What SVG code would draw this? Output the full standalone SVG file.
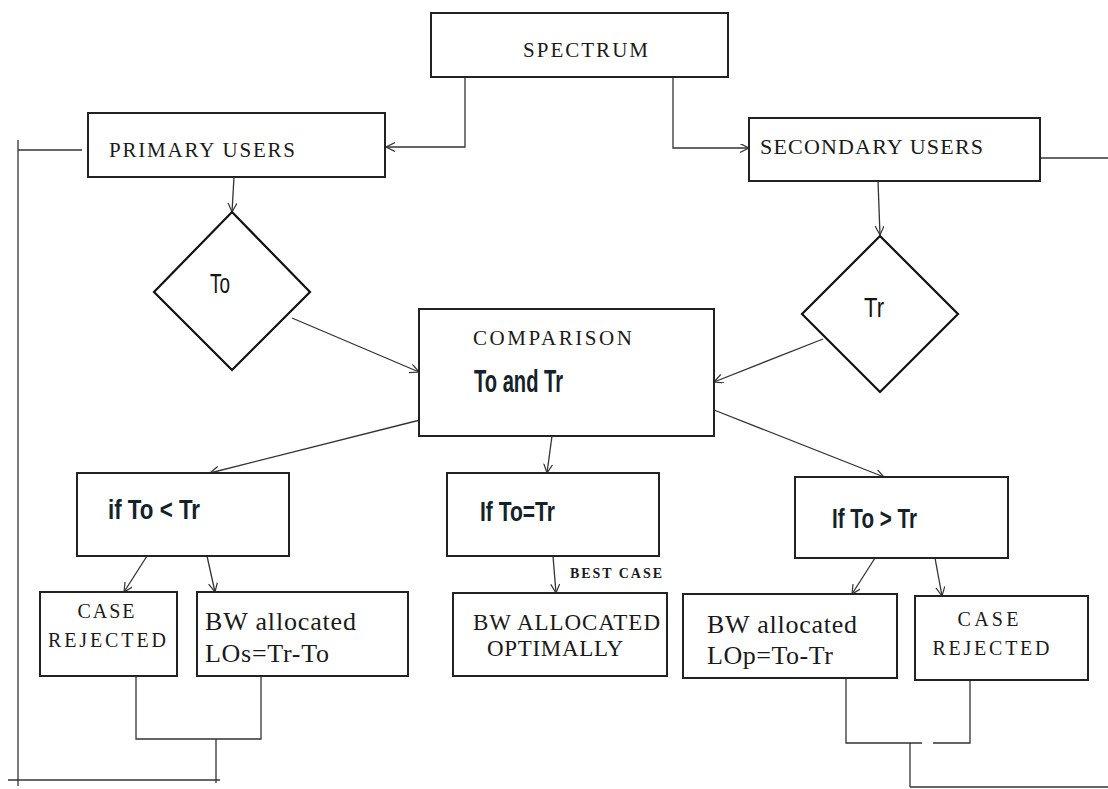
<svg xmlns="http://www.w3.org/2000/svg" width="1108" height="789" viewBox="0 0 1108 789">
  <defs>
    <marker id="arrow" markerUnits="userSpaceOnUse" markerWidth="12" markerHeight="12" refX="9" refY="4.5" orient="auto">
      <path d="M0,0 L9,4.5 L0,9" fill="none" stroke="#333" stroke-width="1.2"/>
    </marker>
    <style>
      .box { fill: #fff; stroke: #222; stroke-width: 2; }
      .dia { fill: #fff; stroke: #111; stroke-width: 2.2; }
      .conn { fill: none; stroke: #333; stroke-width: 1.3; }
      .serif { font-family: "Liberation Serif", "Times New Roman", serif; fill: #1a1a1a; }
      .cond { font-family: "Liberation Sans", Arial, sans-serif; font-weight: bold; fill: #14222a; }
      .thin { font-family: "Liberation Sans", Arial, sans-serif; fill: #141414; }
    </style>
  </defs>
  <rect x="0" y="0" width="1108" height="789" fill="#fff"/>

  <!-- connectors -->
  <g id="connectors">
    <polyline class="conn" points="465,77 465,147 386,147" marker-end="url(#arrow)"/>
    <polyline class="conn" points="673,77 673,148 749,148" marker-end="url(#arrow)"/>
    <line class="conn" x1="234" y1="177" x2="232" y2="212" marker-end="url(#arrow)"/>
    <line class="conn" x1="878" y1="181" x2="880" y2="235" marker-end="url(#arrow)"/>
    <line class="conn" x1="292" y1="318" x2="419" y2="372" marker-end="url(#arrow)"/>
    <line class="conn" x1="823" y1="339" x2="714" y2="382" marker-end="url(#arrow)"/>
    <line class="conn" x1="420" y1="420" x2="210" y2="473" marker-end="url(#arrow)"/>
    <line class="conn" x1="552" y1="436" x2="547" y2="473" marker-end="url(#arrow)"/>
    <line class="conn" x1="714" y1="410" x2="884" y2="477" marker-end="url(#arrow)"/>
    <line class="conn" x1="147" y1="556" x2="124" y2="592" marker-end="url(#arrow)"/>
    <line class="conn" x1="207" y1="556" x2="215" y2="592" marker-end="url(#arrow)"/>
    <line class="conn" x1="553" y1="556" x2="556" y2="593" marker-end="url(#arrow)"/>
    <line class="conn" x1="875" y1="558" x2="852" y2="594" marker-end="url(#arrow)"/>
    <line class="conn" x1="935" y1="558" x2="942" y2="596" marker-end="url(#arrow)"/>
    <!-- left merge and feedback loop -->
    <polyline class="conn" points="136,676 136,739 261,739 261,676"/>
    <line class="conn" x1="216" y1="739" x2="216" y2="783"/>
    <line class="conn" x1="8" y1="780" x2="220" y2="780"/>
    <line class="conn" x1="18" y1="140" x2="18" y2="786"/>
    <line class="conn" x1="82" y1="150" x2="18" y2="150"/>
    <!-- right merge and feedback loop -->
    <polyline class="conn" points="846,678 846,743 922,743"/>
    <polyline class="conn" points="933,743 970,743 970,680"/>
    <line class="conn" x1="910" y1="743" x2="910" y2="787"/>
    <line class="conn" x1="910" y1="787" x2="1108" y2="787"/>
    <line class="conn" x1="1040" y1="158" x2="1108" y2="158"/>
  </g>

  <g id="spectrum">
    <rect class="box" x="431" y="13" width="297" height="64"/>
    <text class="serif" x="523" y="57" font-size="21" textLength="125" lengthAdjust="spacing">SPECTRUM</text>
  </g>

  <g id="primary-users">
    <rect class="box" x="88" y="113" width="297" height="64"/>
    <text class="serif" x="109" y="157" font-size="21" textLength="186" lengthAdjust="spacing">PRIMARY USERS</text>
  </g>

  <g id="secondary-users">
    <rect class="box" x="749" y="118" width="291" height="63"/>
    <text class="serif" x="760" y="154" font-size="22" textLength="223" lengthAdjust="spacing">SECONDARY USERS</text>
  </g>

  <g id="to-decision">
    <polygon class="dia" points="232,212 310,292 232,370 154,292"/>
    <text class="thin" x="210" y="293" font-size="27" textLength="20" lengthAdjust="spacingAndGlyphs">To</text>
  </g>

  <g id="tr-decision">
    <polygon class="dia" points="880,236 958,314 880,392 802,314"/>
    <text class="thin" x="864" y="317" font-size="27" textLength="20" lengthAdjust="spacingAndGlyphs">Tr</text>
  </g>

  <g id="comparison">
    <rect class="box" x="419" y="309" width="295" height="127"/>
    <text class="serif" x="473" y="345" font-size="21" textLength="159" lengthAdjust="spacing">COMPARISON</text>
    <text class="cond" x="474" y="392" font-size="32" textLength="89" lengthAdjust="spacingAndGlyphs">To and Tr</text>
  </g>

  <g id="if-less">
    <rect class="box" x="77" y="473" width="212" height="83"/>
    <text class="cond" x="108" y="519" font-size="28" textLength="92" lengthAdjust="spacingAndGlyphs">if To &lt; Tr</text>
  </g>

  <g id="if-equal">
    <rect class="box" x="447" y="473" width="212" height="83"/>
    <text class="cond" x="480" y="521" font-size="28" textLength="75" lengthAdjust="spacingAndGlyphs">If To=Tr</text>
  </g>

  <g id="if-greater">
    <rect class="box" x="795" y="477" width="213" height="81"/>
    <text class="cond" x="832" y="528" font-size="28" textLength="85" lengthAdjust="spacingAndGlyphs">If To &gt; Tr</text>
  </g>

  <text id="best-case-label" class="serif" x="570" y="578" font-size="14" font-weight="bold" textLength="92" lengthAdjust="spacing">BEST CASE</text>

  <g id="case-rejected-left">
    <rect class="box" x="40" y="592" width="137" height="84"/>
    <text class="serif" x="106" y="618" font-size="20" text-anchor="middle" textLength="57" lengthAdjust="spacing">CASE</text>
    <text class="serif" x="107" y="647" font-size="20" text-anchor="middle" textLength="118" lengthAdjust="spacing">REJECTED</text>
  </g>

  <g id="bw-allocated-los">
    <rect class="box" x="197" y="592" width="211" height="84"/>
    <text class="serif" x="205" y="630" font-size="26" textLength="151" lengthAdjust="spacing">BW allocated</text>
    <text class="serif" x="205" y="662" font-size="26" textLength="124" lengthAdjust="spacing">LOs=Tr-To</text>
  </g>

  <g id="bw-allocated-optimally">
    <rect class="box" x="453" y="593" width="214" height="83"/>
    <text class="serif" x="473" y="630" font-size="23" textLength="187" lengthAdjust="spacing">BW ALLOCATED</text>
    <text class="serif" x="487" y="656" font-size="23" textLength="136" lengthAdjust="spacing">OPTIMALLY</text>
  </g>

  <g id="bw-allocated-lop">
    <rect class="box" x="683" y="594" width="214" height="84"/>
    <text class="serif" x="707" y="633" font-size="26" textLength="150" lengthAdjust="spacing">BW allocated</text>
    <text class="serif" x="707" y="664" font-size="26" textLength="126" lengthAdjust="spacing">LOp=To-Tr</text>
  </g>

  <g id="case-rejected-right">
    <rect class="box" x="915" y="596" width="173" height="84"/>
    <text class="serif" x="988" y="626" font-size="20" text-anchor="middle" textLength="61" lengthAdjust="spacing">CASE</text>
    <text class="serif" x="991" y="655" font-size="20" text-anchor="middle" textLength="117" lengthAdjust="spacing">REJECTED</text>
  </g>
</svg>
